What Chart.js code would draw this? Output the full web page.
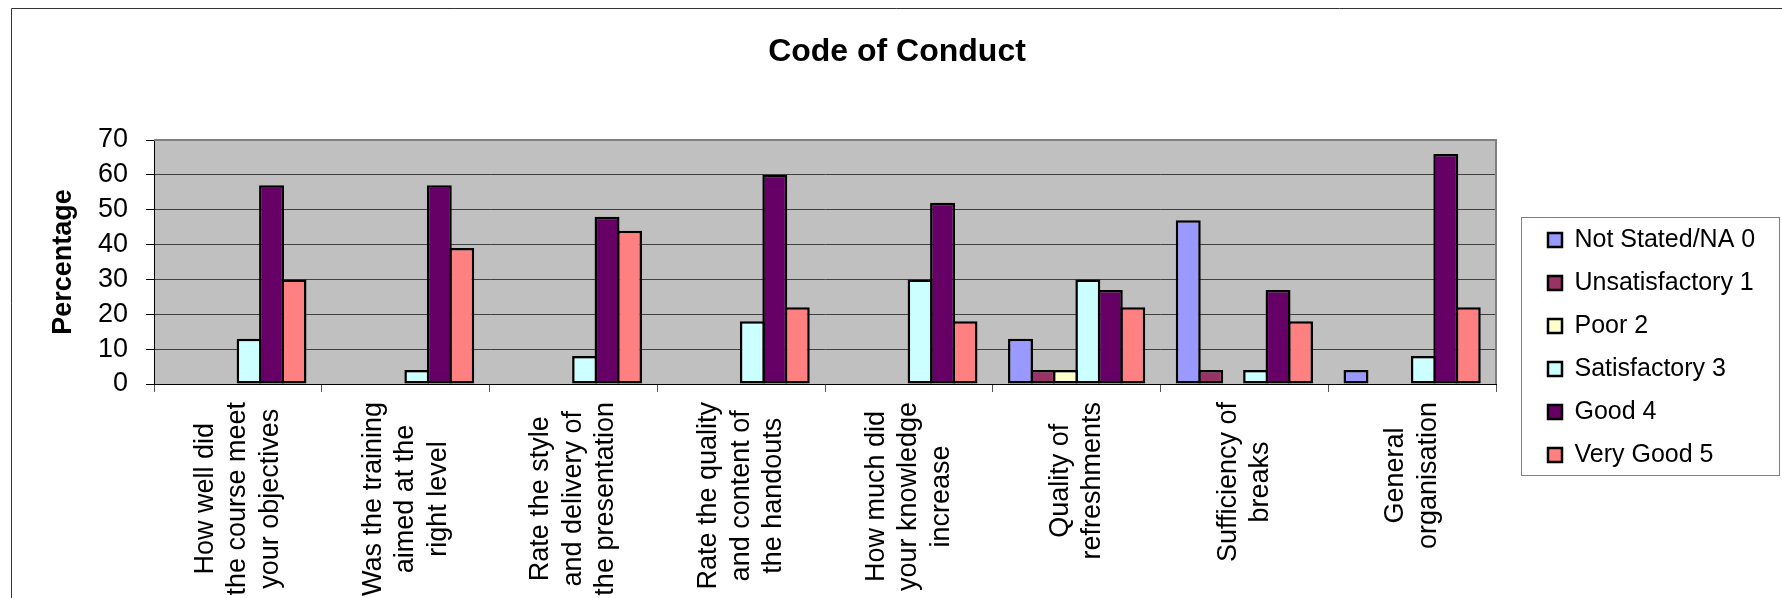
<!DOCTYPE html>
<html>
<head>
<meta charset="utf-8">
<title>Code of Conduct</title>
<script src="https://cdn.jsdelivr.net/npm/chart.js@4/dist/chart.umd.min.js"></script>
<style>
  html, body { margin: 0; padding: 0; background: #fff; overflow: hidden; }
  canvas { display: block; }
</style>
</head>
<body>
<canvas id="chart" width="1782" height="598"></canvas>
<script>
// Survey questions (each entry is one category, split into the lines it is printed on)
const categories = [
  ['How well did', 'the course meet', 'your objectives'],
  ['Was the training', 'aimed at the', 'right level'],
  ['Rate the style', 'and delivery of', 'the presentation'],
  ['Rate the quality', 'and content of', 'the handouts'],
  ['How much did', 'your knowledge', 'increase'],
  ['Quality of', 'refreshments'],
  ['Sufficiency of', 'breaks'],
  ['General', 'organisation']
];

// Rating names, one per series
const seriesNames = ['Not Stated/NA 0', 'Unsatisfactory 1', 'Poor 2', 'Satisfactory 3', 'Good 4', 'Very Good 5'];

// Percentage of answers per question for each rating
const notStated      = [0, 0, 0, 0, 0, 13, 47, 4];
const unsatisfactory = [0, 0, 0, 0, 0, 4, 4, 0];
const poor           = [0, 0, 0, 0, 0, 4, 0, 0];
const satisfactory   = [13, 4, 8, 18, 30, 30, 4, 8];
const good           = [57, 57, 48, 60, 52, 27, 27, 66];
const veryGood       = [30, 39, 44, 22, 18, 22, 18, 22];

// Value axis tick labels
const yTickValues = [0, 10, 20, 30, 40, 50, 60, 70];

const seriesValues = [notStated, unsatisfactory, poor, satisfactory, good, veryGood];
const seriesColors = ['#9999FF', '#993366', '#FFFFCC', '#CCFFFF', '#660066', '#FF8080'];

const FONT = "'Liberation Sans', Arial, Helvetica, sans-serif";
Chart.defaults.font.family = FONT;
Chart.defaults.color = '#000';

const PAD_LEFT = 39;
const PAD_RIGHT = 27;
const LEGEND_WIDTH = 225;
const LABEL_FONT_SIZE = 27;
const LABEL_LINE_HEIGHT = 32.5;
const LABEL_TOP = 402;
const BAR_BORDER = 2.5;
// neighbouring bars share one outline: each bar is widened by one border width
const BAR_SPAN = (22.45 + BAR_BORDER) / 22.45;

// Grey plot background, outer chart frame and plot border
const plotFrame = {
  id: 'plotFrame',
  beforeDraw(chart) {
    const { ctx, chartArea: a } = chart;
    ctx.save();
    ctx.fillStyle = '#ffffff';
    ctx.fillRect(0, 0, chart.width, chart.height);
    ctx.fillStyle = '#C0C0C0';
    ctx.fillRect(a.left, a.top, a.right - a.left, a.bottom - a.top);
    ctx.strokeStyle = '#333333';
    ctx.lineWidth = 1;
    ctx.beginPath();
    ctx.moveTo(11.5, chart.height);
    ctx.lineTo(11.5, 8.5);
    ctx.lineTo(chart.width, 8.5);
    ctx.stroke();
    ctx.restore();
  },
  beforeDatasetsDraw(chart) {
    const { ctx, chartArea: a } = chart;
    ctx.save();
    ctx.strokeStyle = '#808080';
    ctx.lineWidth = 2;
    ctx.beginPath();
    ctx.moveTo(a.left, a.top);
    ctx.lineTo(a.right, a.top);
    ctx.lineTo(a.right, a.bottom);
    ctx.stroke();
    ctx.restore();
  }
};

// Vertical, centre-aligned multi-line category labels under each group
const categoryLabels = {
  id: 'categoryLabels',
  afterDraw(chart) {
    const { ctx } = chart;
    const xScale = chart.scales.x;
    ctx.save();
    ctx.font = LABEL_FONT_SIZE + 'px ' + FONT;
    ctx.fillStyle = '#000';
    ctx.textAlign = 'center';
    ctx.textBaseline = 'middle';
    chart.data.labels.forEach((lines, i) => {
      const cx = xScale.getPixelForValue(i);
      const maxW = Math.max(...lines.map(l => ctx.measureText(l).width));
      ctx.save();
      ctx.translate(cx, LABEL_TOP + maxW / 2);
      ctx.rotate(-Math.PI / 2);
      lines.forEach((line, j) => {
        ctx.fillText(line, 0, (j - (lines.length - 1) / 2) * LABEL_LINE_HEIGHT);
      });
      ctx.restore();
    });
    ctx.restore();
  }
};

// Thin frame around the legend entries
const legendFrame = {
  id: 'legendFrame',
  afterDraw(chart) {
    const lg = chart.legend;
    if (!lg || !lg.legendHitBoxes || !lg.legendHitBoxes.length) return;
    const hb = lg.legendHitBoxes;
    const { ctx } = chart;
    const x = Math.round(lg.left - 9) + 0.5;
    const y = Math.round(hb[0].top - 10.5) + 0.5;
    ctx.save();
    ctx.strokeStyle = '#808080';
    ctx.lineWidth = 1;
    ctx.strokeRect(x, y, 258, 258);
    ctx.restore();
  }
};

new Chart(document.getElementById('chart'), {
  type: 'bar',
  data: {
    labels: categories,
    datasets: seriesNames.map((name, k) => ({
      label: name,
      data: seriesValues[k],
      backgroundColor: seriesColors[k],
      borderColor: '#000000',
      borderWidth: BAR_BORDER,
      borderSkipped: false,
      barPercentage: BAR_SPAN,
      categoryPercentage: 0.803
    }))
  },
  options: {
    responsive: false,
    animation: false,
    devicePixelRatio: 1,
    layout: { padding: { left: PAD_LEFT, right: PAD_RIGHT, top: 0, bottom: 0 } },
    plugins: {
      title: {
        display: true,
        text: 'Code of Conduct',
        color: '#000',
        font: { size: 32, weight: 'bold', lineHeight: 1 },
        padding: { top: 36, bottom: 72 }
      },
      legend: {
        display: true,
        position: 'right',
        align: 'start',
        maxWidth: LEGEND_WIDTH,
        title: { display: true, text: '', font: { size: 10, lineHeight: 1 }, padding: { top: 199.5, bottom: 0 } },
        labels: {
          boxWidth: 14,
          boxHeight: 14,
          padding: 18,
          color: '#000',
          font: { size: 25 }
        }
      },
      tooltip: { enabled: false }
    },
    scales: {
      x: {
        grid: { display: true, drawOnChartArea: false, drawTicks: true, tickLength: 8, color: '#555555', offset: true },
        border: { display: true, color: '#000', width: 1 },
        ticks: { display: false },
        afterFit: s => { s.height = 214; }
      },
      y: {
        min: 0,
        max: 70,
        afterBuildTicks: s => { s.ticks = yTickValues.map(v => ({ value: v })); },
        grid: { color: '#404040', lineWidth: 1, tickLength: 8, tickColor: '#000' },
        border: { display: true, color: '#000', width: 1 },
        ticks: { font: { size: 27, lineHeight: 1 }, padding: 18, color: '#000', autoSkip: false },
        title: {
          display: true,
          text: 'Percentage',
          color: '#000',
          font: { size: 27, weight: 'bold', lineHeight: 1 },
          padding: { top: 11, bottom: 0 }
        },
        afterFit: s => { s.width = 154 - PAD_LEFT; }
      },
      spacer: {
        type: 'linear',
        position: 'right',
        display: true,
        grid: { display: false, drawTicks: false },
        border: { display: false },
        ticks: { display: false },
        afterFit: s => { s.width = 34; }
      }
    }
  },
  plugins: [plotFrame, categoryLabels, legendFrame]
});
</script>
</body>
</html>
